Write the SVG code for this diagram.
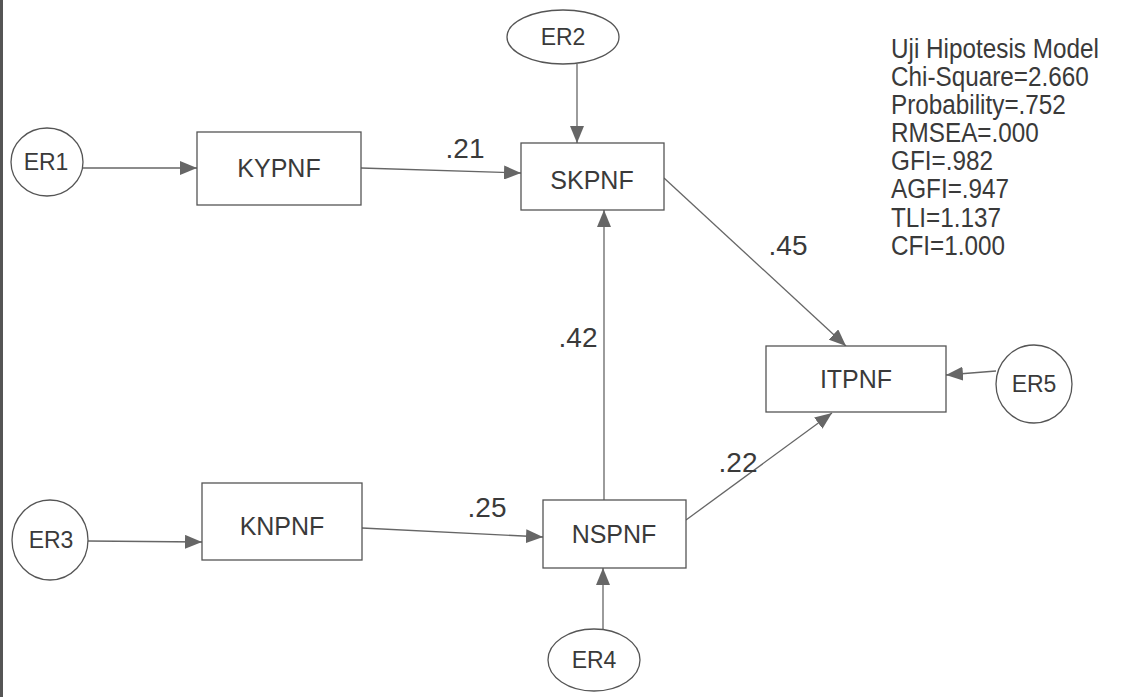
<svg xmlns="http://www.w3.org/2000/svg" width="1122" height="697" viewBox="0 0 1122 697">
<style>
.box{fill:#fff;stroke:#555;stroke-width:1.3}
.err{fill:#fff;stroke:#555;stroke-width:1.3}
.lbl{font-family:"Liberation Sans",Arial,sans-serif;fill:#3a3a3a;text-anchor:middle}
.node{font-size:25px}
.enode{font-size:23px}
.coef{font-family:"Liberation Sans",Arial,sans-serif;fill:#3a3a3a;font-size:28px;text-anchor:middle}
.stat{font-family:"Liberation Sans",Arial,sans-serif;fill:#3a3a3a;font-size:27px}
.edge{stroke:#666;stroke-width:1.3;fill:none;marker-end:url(#ah)}
</style>
<defs>
<marker id="ah" markerUnits="userSpaceOnUse" markerWidth="18" markerHeight="14" refX="17" refY="7" orient="auto">
<path d="M0,0 L17,7 L0,14 Z" fill="#666"/>
</marker>
</defs>
<rect x="0" y="0" width="1122" height="697" fill="#fff"/>
<rect x="0" y="0" width="3" height="697" fill="#555"/>
<g id="connectors">
<line class="edge" x1="83" y1="168" x2="197" y2="168"/>
<line class="edge" x1="361" y1="168" x2="521" y2="173"/>
<line class="edge" x1="577" y1="64" x2="577" y2="143"/>
<line class="edge" x1="604" y1="500" x2="604" y2="210"/>
<line class="edge" x1="664" y1="178" x2="846" y2="346"/>
<line class="edge" x1="996" y1="371" x2="946" y2="375"/>
<line class="edge" x1="686" y1="520" x2="832" y2="413"/>
<line class="edge" x1="603" y1="629" x2="603" y2="568"/>
<line class="edge" x1="88" y1="541" x2="202" y2="542"/>
<line class="edge" x1="362" y1="528" x2="543" y2="537"/>
<text class="coef" x="465" y="158">.21</text>
<text class="coef" x="578" y="347">.42</text>
<text class="coef" x="788" y="255">.45</text>
<text class="coef" x="738" y="472">.22</text>
<text class="coef" x="487" y="517">.25</text>
</g>
<g id="ER1"><ellipse class="err" cx="47" cy="162" rx="36" ry="34"/><text class="lbl enode" x="46" y="170">ER1</text></g>
<g id="KYPNF"><rect class="box" x="197" y="132" width="164" height="73"/><text class="lbl node" x="279" y="177">KYPNF</text></g>
<g id="ER2"><ellipse class="err" cx="563" cy="37" rx="56" ry="27"/><text class="lbl enode" x="563" y="45">ER2</text></g>
<g id="SKPNF"><rect class="box" x="521" y="143" width="143" height="67"/><text class="lbl node" x="592" y="189">SKPNF</text></g>
<g id="ITPNF"><rect class="box" x="766" y="346" width="180" height="66"/><text class="lbl node" x="856" y="388">ITPNF</text></g>
<g id="ER5"><ellipse class="err" cx="1034" cy="384" rx="38" ry="39"/><text class="lbl enode" x="1034" y="392">ER5</text></g>
<g id="NSPNF"><rect class="box" x="543" y="500" width="143" height="68"/><text class="lbl node" x="614" y="543">NSPNF</text></g>
<g id="ER4"><ellipse class="err" cx="594" cy="660" rx="46" ry="31"/><text class="lbl enode" x="594" y="668">ER4</text></g>
<g id="KNPNF"><rect class="box" x="202" y="483" width="160" height="77"/><text class="lbl node" x="282" y="535">KNPNF</text></g>
<g id="ER3"><ellipse class="err" cx="50" cy="540" rx="38" ry="40"/><text class="lbl enode" x="51" y="548">ER3</text></g>
<g id="stats" transform="translate(891,0) scale(0.9,1)">
<text class="stat" x="0" y="58">Uji Hipotesis Model</text>
<text class="stat" x="0" y="86">Chi-Square=2.660</text>
<text class="stat" x="0" y="114">Probability=.752</text>
<text class="stat" x="0" y="142">RMSEA=.000</text>
<text class="stat" x="0" y="170">GFI=.982</text>
<text class="stat" x="0" y="198">AGFI=.947</text>
<text class="stat" x="0" y="227">TLI=1.137</text>
<text class="stat" x="0" y="255">CFI=1.000</text>
</g>
</svg>
